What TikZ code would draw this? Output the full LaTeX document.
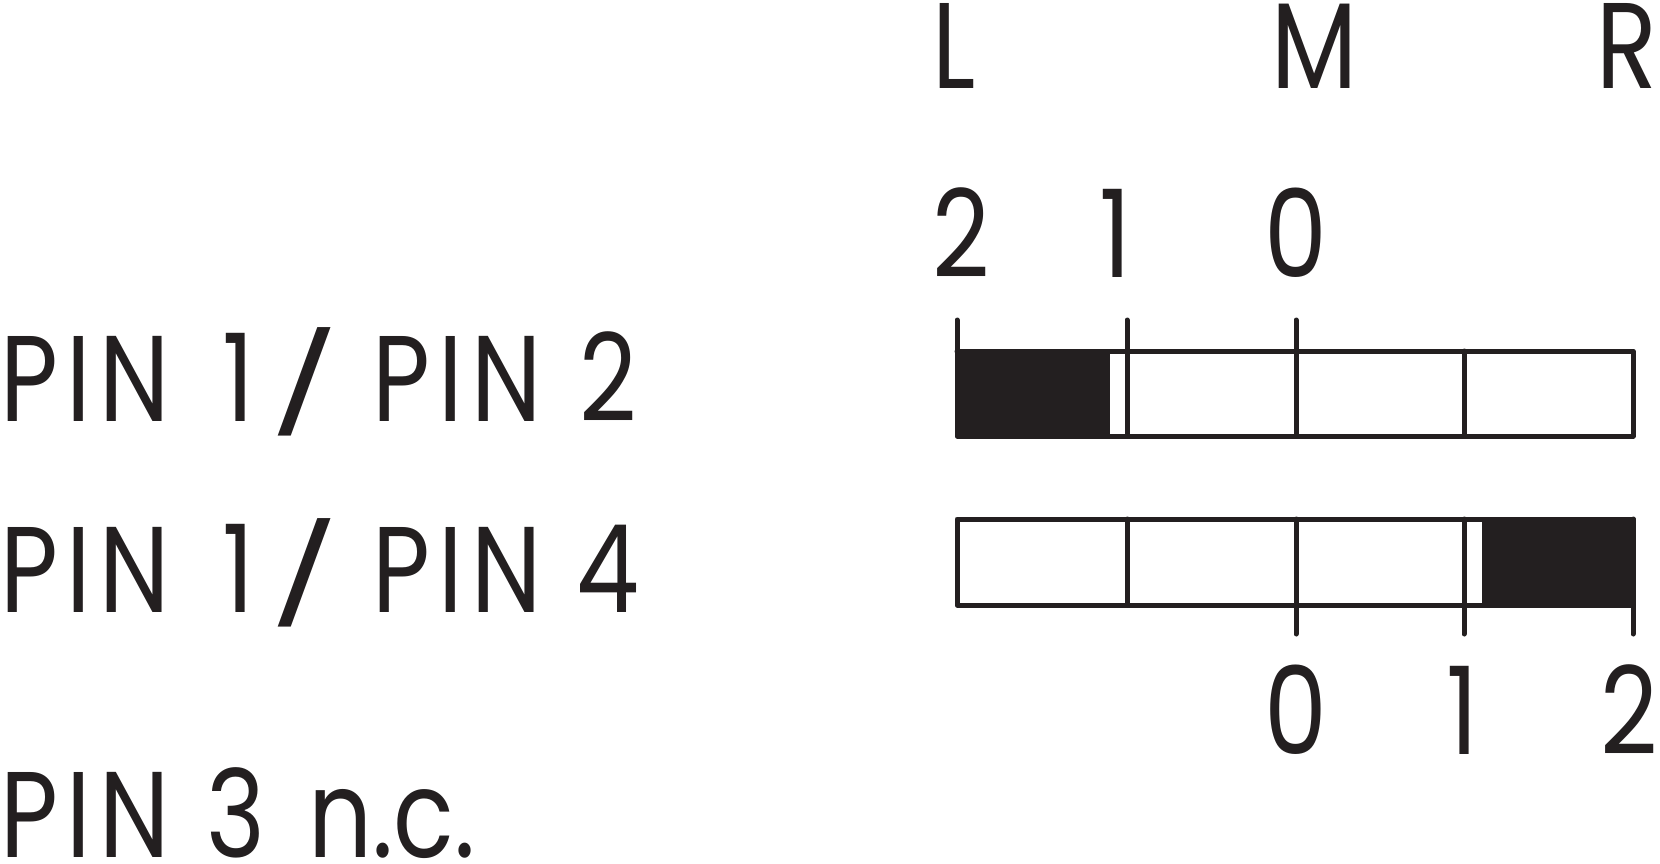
\documentclass[tikz,border=0pt]{standalone}
\usepackage{fontspec}
\newfontfamily\pf[FakeStretch=0.82]{Poppins}
\newfontfamily\pfw[FakeStretch=0.82,LetterSpace=7]{Poppins}
\definecolor{ink}{RGB}{35,31,32}
\begin{document}
\begin{tikzpicture}[x=0.5pt,y=-0.5pt,
  lbl/.style={font=\pf\fontsize{61}{61}\selectfont, inner sep=0pt, text=ink},
  wlbl/.style={lbl, font=\pfw\fontsize{61}{61}\selectfont},
  slash/.style={lbl, xscale=1.45, yscale=0.8},
  flat/.style={text depth=0pt},
  barline/.style={draw=ink, line width=2.5pt, line cap=round, line join=round},
  barfill/.style={fill=ink}]
\useasboundingbox (0,0) rectangle (1660,863);
% top labels
\node[lbl, anchor=base west] (L) at (932,88) {L};
\node[lbl, anchor=base] (M) at (1315,88) {M};
\node[lbl, anchor=base east] (R) at (1658,88) {R};
% top numbers
\node[lbl, anchor=base west] (t2) at (932,277) {2};
\node[lbl, anchor=base east] (t1) at (1132,277) {1};
\node[lbl, anchor=base] (t0) at (1296,277) {0};
% bottom numbers
\node[lbl, anchor=base] (b0) at (1296,754) {0};
\node[lbl, anchor=base east] (b1) at (1479,754) {1};
\node[lbl, anchor=base east] (b2) at (1658,754) {2};
% left texts, line 1
\node[wlbl, anchor=base west] (p1a) at (0,421) {PIN};
\node[lbl, anchor=base west] (p1b) at (222,421) {1};
\node[slash] (p1c) at (305,382) {/};
\node[wlbl, anchor=base west] (p1d) at (372,421) {PIN};
\node[lbl, anchor=base west] (p1e) at (579,421) {2};
% line 2
\node[wlbl, anchor=base west] (p2a) at (0,612) {PIN};
\node[lbl, anchor=base west] (p2b) at (222,612) {1};
\node[slash] (p2c) at (305,573) {/};
\node[wlbl, anchor=base west] (p2d) at (372,612) {PIN};
\node[lbl, anchor=base west] (p2e) at (576,612) {4};
% line 3
\node[wlbl, flat, anchor=base west] (p3a) at (0,857) {PIN};
\node[lbl, flat, anchor=base west] (p3b) at (206,857) {3};
\node[lbl, flat, anchor=base west] (p3c) at (308,857) {n.c.};
% bar 1
\fill[barfill] (957,351) rectangle (1110,436);
\draw[barline] (957,320) -- (957,436) -- (1633,436) -- (1633,351) -- (957,351);
\foreach \x in {1127,1296} \draw[barline] (\x,320) -- (\x,436);
\draw[barline] (1464,351) -- (1464,436);
% bar 2
\fill[barfill] (1482,519) rectangle (1633,605);
\draw[barline] (957,519) rectangle (1633,605);
\foreach \x in {1127} \draw[barline] (\x,519) -- (\x,605);
\foreach \x in {1296,1464,1633} \draw[barline] (\x,519) -- (\x,634);
\end{tikzpicture}
\end{document}
